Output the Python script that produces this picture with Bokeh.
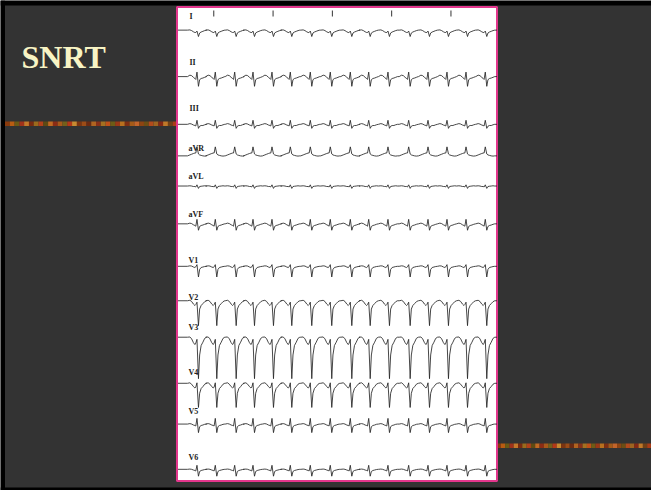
import numpy as np
from bokeh.plotting import figure
from bokeh.models import Range1d
from bokeh.embed import file_html
from bokeh.resources import INLINE
from bokeh.core.properties import value

# ---------------- data ----------------
title_text = "SNRT"
leads = ["I", "II", "III", "aVR", "aVL", "aVF", "V1", "V2", "V3", "V4", "V5", "V6"]

# R-peak times (s, from strip start)
r_peak_times = [0.320, 0.629, 0.956, 1.265, 1.585, 1.894, 2.231, 2.568,
                2.906, 3.216, 3.541, 3.890, 4.216, 4.536, 4.857, 5.182]
# timing marks along the top (s)
second_marks = [0.62, 1.62, 2.62, 3.62, 4.62]

# beat template: time offsets from R (s) and amplitudes per lead (mV)
beat_offsets = [-0.16, -0.12, -0.09, -0.06, -0.035, -0.02, 0.0, 0.025, 0.045, 0.07, 0.10, 0.13, 0.16]
beat_I   = [0.10, 0.11, 0.08, 0.03, 0.00, 0.00, 0.06, -0.17, -0.02, 0.02, 0.05, 0.08, 0.10]
beat_II  = [0.08, 0.14, 0.12, 0.05, 0.00, -0.04, 0.27, -0.33, -0.05, 0.00, 0.02, 0.05, 0.08]
beat_III = [0.05, 0.08, 0.06, 0.02, 0.00, -0.02, 0.22, -0.12, -0.03, 0.00, 0.00, 0.03, 0.05]
beat_aVR = [-0.10, -0.06, -0.03, 0.00, 0.02, 0.02, 0.28, -0.02, -0.06, -0.08, -0.10, -0.11, -0.10]
beat_aVL = [0.02, 0.03, 0.02, 0.00, 0.00, -0.02, 0.07, -0.08, 0.00, 0.01, 0.02, 0.03, 0.02]
beat_aVF = [0.07, 0.10, 0.08, 0.03, 0.00, -0.03, 0.26, -0.20, -0.04, 0.00, 0.02, 0.05, 0.07]
beat_V1  = [0.05, 0.07, 0.06, 0.02, 0.00, 0.03, 0.12, -0.40, -0.08, 0.00, 0.02, 0.04, 0.05]
beat_V2  = [0.20, 0.22, 0.17, 0.06, 0.00, 0.04, 0.14, -0.85, -0.15, 0.00, 0.08, 0.16, 0.20]
beat_V3  = [0.35, 0.36, 0.28, 0.12, 0.04, 0.10, 0.26, -1.40, -0.40, 0.00, 0.14, 0.30, 0.35]
beat_V4  = [0.22, 0.24, 0.18, 0.08, 0.02, 0.06, 0.24, -0.80, -0.20, 0.00, 0.08, 0.18, 0.22]
beat_V5  = [0.06, 0.08, 0.06, 0.02, 0.00, -0.02, 0.30, -0.30, -0.05, 0.00, 0.02, 0.05, 0.06]
beat_V6  = [0.05, 0.06, 0.05, 0.02, 0.00, -0.02, 0.22, -0.24, -0.04, 0.00, 0.02, 0.04, 0.05]
beats = [beat_I, beat_II, beat_III, beat_aVR, beat_aVL, beat_aVF,
         beat_V1, beat_V2, beat_V3, beat_V4, beat_V5, beat_V6]

# decorative bar texture colours
bar_colors = ["#8a3a0c", "#b85c12", "#6b5a14", "#a0321a", "#c4782a", "#7a2a10",
              "#9a6a1c", "#b2401a", "#5e4a12", "#c06a22", "#8c2c14", "#a8581a",
              "#74601a", "#b43818", "#c88a30", "#7c3410", "#9c4c16", "#6a2a12",
              "#b06420", "#883018", "#a47020", "#c05018", "#6e5c16", "#9a3816",
              "#b8701e", "#7e2e12", "#a45a18", "#c2642a", "#8e4412", "#6c4e14",
              "#b24a1c", "#9e6420", "#852814", "#c07828", "#704016", "#aa3c16"]

# ---------------- layout / style ----------------
BG = "#333333"
PINK = "#e2368c"
W, H = 651, 490
STRIP_L, STRIP_R, STRIP_T, STRIP_B = 176.5, 496.5, 6.5, 480.5
PPS = 59.3      # px per second
PPMV = 23.7     # px per mV
STRIP_DUR = (STRIP_R - STRIP_L - 1.0) / PPS
lead_base_y = [32, 78, 125, 153, 186, 225, 267, 305, 345, 388, 425, 470]
label_x = [189, 189, 189, 188, 188, 188, 188, 188, 188, 188, 188, 188]
label_y = [16, 62, 108, 148, 176, 214, 260, 297, 327, 372, 411, 457]

p = figure(width=W, height=H, x_range=Range1d(0, W), y_range=Range1d(H, 0),
           output_backend="svg", toolbar_location=None, min_border=0,
           x_axis_type=None, y_axis_type=None)
p.grid.visible = False
p.outline_line_color = None
p.background_fill_color = BG
p.border_fill_color = BG

# black slide frame
p.quad(left=[0, 0, 0], right=[4.5, W, W], top=[0, 0, 487], bottom=[H, 5, H],
       fill_color="#000000", line_color=None)

# decorative bars
def texture_bar(x0, x1, y0, y1):
    n = len(bar_colors)
    edges = np.linspace(x0, x1, n + 1)
    p.quad(left=edges[:-1], right=edges[1:], top=[y0] * n, bottom=[y1] * n,
           fill_color=bar_colors, line_color=None)

texture_bar(4.5, 177, 121, 125.5)
texture_bar(496, 651, 443, 447.5)

# strip paper
p.quad(left=[STRIP_L], right=[STRIP_R], top=[STRIP_T], bottom=[STRIP_B],
       fill_color="white", line_color=PINK, line_width=2)

# timing marks
mx = [STRIP_L + t * PPS for t in second_marks]
p.segment(x0=mx, y0=[10] * len(mx), x1=mx, y1=[16] * len(mx),
          line_color="#333333", line_width=1)

# traces
for amps, base in zip(beats, lead_base_y):
    ts = [0.0]
    vs = [amps[0]]
    for r in r_peak_times:
        for dt, a in zip(beat_offsets, amps):
            ts.append(r + dt)
            vs.append(a)
    ts.append(STRIP_DUR)
    vs.append(amps[-1])
    xs = [STRIP_L + 1.0 + t * PPS for t in ts]
    ys = [base - v * PPMV for v in vs]
    p.line(xs, ys, line_color="#262626", line_width=0.85)

# lead labels
p.text(x=label_x, y=label_y, text=leads, text_font=value("Liberation Serif"),
       text_font_style="bold", text_font_size="8px", text_color="#222222",
       text_baseline="middle", text_align="left")

# title
p.text(x=[21], y=[56], text=[title_text], text_font=value("Liberation Serif"),
       text_font_style="bold", text_font_size="32px", text_color="#f8f4c4",
       text_baseline="alphabetic", text_align="left")

open("out.html", "w").write(file_html(p, INLINE))
